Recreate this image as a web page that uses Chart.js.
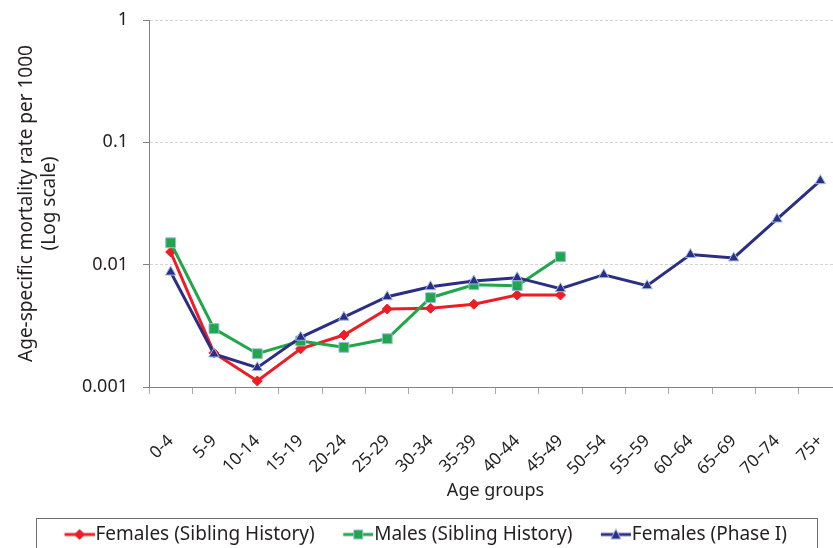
<!DOCTYPE html>
<html>
<head>
<meta charset="utf-8">
<script src="https://cdn.jsdelivr.net/npm/chart.js@4.4.0/dist/chart.umd.min.js"></script>
<style>
  html, body { margin: 0; padding: 0; background: #fff; overflow: hidden; }
  #wrap { position: absolute; left: 0; top: 0; width: 854px; height: 570px; }
</style>
</head>
<body>
<div id="wrap"><canvas id="chart" width="854" height="570"></canvas></div>
<script>
// age groups on the x axis
const ageGroups = ["0-4", "5-9", "10-14", "15-19", "20-24", "25-29", "30-34", "35-39",
  "40-44", "45-49", "50\u201354", "55\u201359", "60\u201364", "65\u201369", "70\u201374", "75+"];

// mortality rates
const femalesSibling = [0.0127, 0.0019, 0.00112, 0.00205, 0.00266, 0.00434, 0.0044, 0.00475, 0.00565, 0.00565];
const malesSibling = [0.0151, 0.0030, 0.00187, 0.00238, 0.00211, 0.00248, 0.00537, 0.00686, 0.00673, 0.0116];
const femalesPhase1 = [0.0087, 0.00186, 0.00144, 0.00255, 0.00372, 0.00547, 0.0066, 0.00736, 0.00783, 0.00637,
  0.00828, 0.00673, 0.0121, 0.01135, 0.0236, 0.0486];

const yTicks = [0.001, 0.01, 0.1, 1];

const RED = "#ee1c25";
const GREEN = "#20a64b";
const NAVY = "#2b2e83";
const EDGE = "#9dbde4";
const FONT = '"Noto Sans", sans-serif';
const TEXT = "#231f20";

// small line+marker icons for the legend (drawn in the right part so they hug the text)
function legendIcon(color, shape, edge) {
  const c = document.createElement("canvas");
  c.width = 48; c.height = 14;
  const g = c.getContext("2d");
  const x0 = 18, cx = 33;
  g.strokeStyle = color; g.lineWidth = 3;
  g.beginPath(); g.moveTo(x0, 7); g.lineTo(48, 7); g.stroke();
  g.fillStyle = color; g.strokeStyle = edge; g.lineWidth = 1;
  g.beginPath();
  if (shape === "diamond") {
    g.moveTo(cx, 2); g.lineTo(cx + 5, 7); g.lineTo(cx, 12); g.lineTo(cx - 5, 7);
  } else if (shape === "square") {
    g.rect(cx - 4.5, 2.5, 9, 9);
  } else {
    g.moveTo(cx, 1.5); g.lineTo(cx + 5, 11.5); g.lineTo(cx - 5, 11.5);
  }
  g.closePath(); g.fill(); g.stroke();
  return c;
}
const icons = [legendIcon(RED, "diamond", RED), legendIcon(GREEN, "square", EDGE), legendIcon(NAVY, "triangle", EDGE)];

const legendBox = {
  id: "legendBox",
  afterDraw(chart) {
    const ctx = chart.ctx;
    ctx.save();
    ctx.strokeStyle = "#6d6e71";
    ctx.lineWidth = 1;
    ctx.strokeRect(36.5, 518.5, 781, 80);
    ctx.restore();
  }
};

const ctx = document.getElementById("chart").getContext("2d");
new Chart(ctx, {
  type: "line",
  data: {
    labels: ageGroups,
    datasets: [
      {
        label: "Females (Sibling History)",
        data: femalesSibling,
        borderColor: RED,
        backgroundColor: RED,
        pointBorderColor: RED,
        pointStyle: "rectRot",
        pointRadius: 5,
        borderWidth: 3,
        pointBorderWidth: 1,
        order: 2
      },
      {
        label: "Males (Sibling History)",
        data: malesSibling,
        borderColor: GREEN,
        backgroundColor: GREEN,
        pointBorderColor: EDGE,
        pointStyle: "rect",
        pointRadius: 7,
        borderWidth: 3,
        pointBorderWidth: 1,
        order: 1
      },
      {
        label: "Females (Phase I)",
        data: femalesPhase1,
        borderColor: NAVY,
        backgroundColor: NAVY,
        pointBorderColor: EDGE,
        pointStyle: "triangle",
        pointRadius: 6,
        borderWidth: 3,
        pointBorderWidth: 1,
        order: 0
      }
    ]
  },
  options: {
    responsive: false,
    animation: false,
    layout: { padding: { top: 20, left: 0, right: 12, bottom: 16 } },
    plugins: {
      tooltip: { enabled: false },
      legend: {
        position: "bottom",
        labels: {
          usePointStyle: true,
          pointStyleWidth: 31,
          padding: 19,
          color: TEXT,
          font: { family: FONT, size: 19 },
          sort: (a, b) => a.datasetIndex - b.datasetIndex,
          generateLabels(chart) {
            const items = Chart.defaults.plugins.legend.labels.generateLabels(chart);
            items.forEach(it => { it.pointStyle = icons[it.datasetIndex]; });
            return items;
          }
        }
      }
    },
    scales: {
      x: {
        offset: true,
        grid: { offset: true, drawOnChartArea: false, drawTicks: true, tickLength: 7, color: "#a7a9ac", tickColor: "#a7a9ac" },
        border: { color: "#808285", width: 1 },
        ticks: { color: TEXT, font: { family: FONT, size: 17 }, maxRotation: 45, minRotation: 45, autoSkip: false, padding: 37 },
        title: { display: true, text: "Age groups", color: TEXT, font: { family: FONT, size: 18 }, padding: { top: 4, bottom: 4 } },
        afterFit(scale) {
          scale.height = 119;
          scale.paddingLeft = 0;
          scale.paddingRight = 0;
        }
      },
      y: {
        type: "logarithmic",
        min: 0.001,
        max: 1,
        afterBuildTicks(scale) { scale.ticks = yTicks.map(v => ({ value: v })); },
        grid: { color: "#d1d3d4", tickColor: "#808285", tickLength: 6, lineWidth: 1 },
        border: { color: "#808285", width: 1, dash: [3, 2] },
        ticks: {
          color: TEXT,
          font: { family: FONT, size: 18 },
          padding: 15,
          callback: v => String(v)
        },
        title: {
          display: true,
          text: ["Age-specific mortality rate per 1000", "(Log scale)"],
          color: TEXT,
          font: { family: FONT, size: 19, lineHeight: 1.2 },
          padding: { top: 15, bottom: 0 }
        },
        afterFit(scale) {
          scale.width = 149;
          scale.paddingTop = 0;
          scale.paddingBottom = 0;
        }
      }
    }
  },
  plugins: [legendBox]
});
</script>
</body>
</html>
